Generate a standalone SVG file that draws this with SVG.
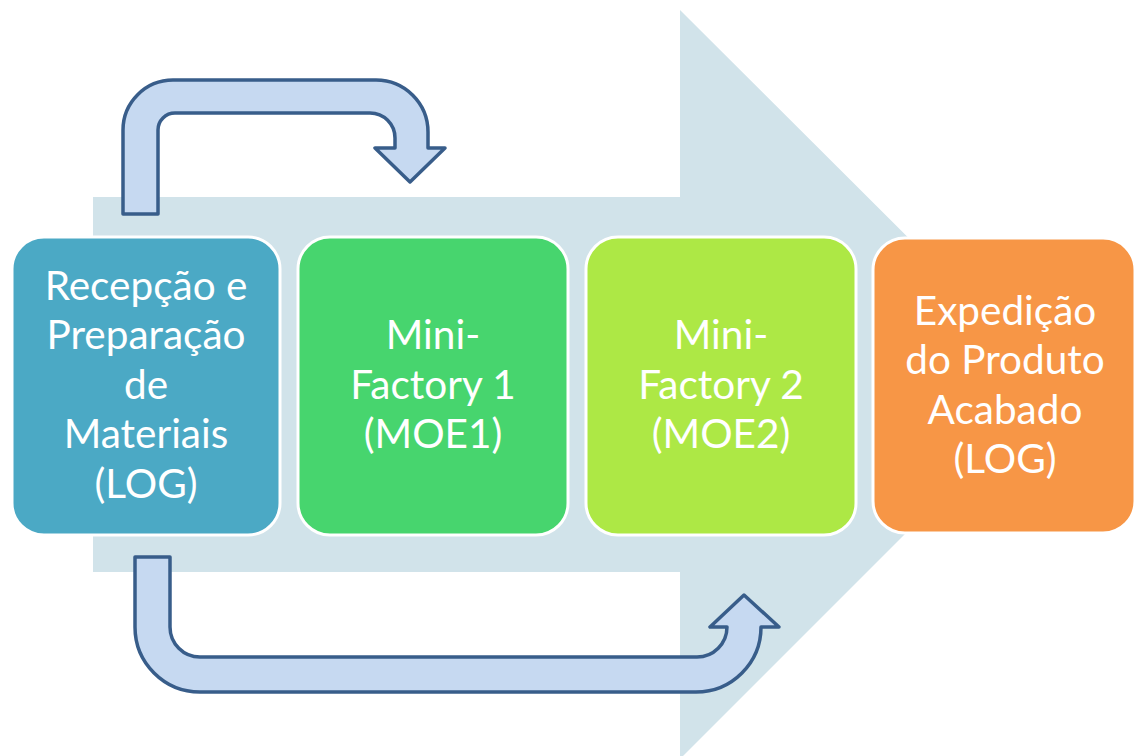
<svg xmlns="http://www.w3.org/2000/svg" width="1137" height="756" viewBox="0 0 1137 756">
  <style>
    .box { stroke: #ffffff; stroke-width: 3; }
    .lbl { font-family: Lato, "Liberation Sans", sans-serif; font-size: 40.5px; fill: #ffffff; text-anchor: middle; }
    .bent { fill: #C6D9F1; stroke: #385D8A; stroke-width: 3.5; stroke-linejoin: round; }
  </style>
  <rect width="1137" height="756" fill="#ffffff"/>
  <g id="background-arrow">
    <path d="M93,197 L680,197 L680,10 L1055,384 L680,759 L680,572 L93,572 Z" fill="#D1E3EA"/>
  </g>
  <g id="connectors">
    <path class="bent" d="M123,214 L123,130 A50,50 0 0 1 173,80 L376,80 A52,52 0 0 1 428,132 L428,148 L445,148 L410,182 L375,148 L395,148 L395,138 A25,25 0 0 0 370,113 L175,113 A17,17 0 0 0 158,130 L158,214 Z"/>
    <path class="bent" d="M135,557 L135,627 A65,65 0 0 0 200,692 L696,692 A65,65 0 0 0 761,627 L779,627 L744,595 L710,627 L727,627 A30,30 0 0 1 697,657 L200,657 A30,30 0 0 1 170,627 L170,557 Z"/>
  </g>
  <g id="node-recepcao">
    <rect class="box" x="12" y="237" width="268" height="298" rx="32" fill="#4BA9C5"/>
    <text class="lbl" x="146" y="300">Recepção e</text>
    <text class="lbl" x="146" y="349">Preparação</text>
    <text class="lbl" x="146" y="399">de</text>
    <text class="lbl" x="146" y="448">Materiais</text>
    <text class="lbl" x="146" y="498">(LOG)</text>
  </g>
  <g id="node-mf1">
    <rect class="box" x="298" y="237" width="270" height="298" rx="32" fill="#47D56E"/>
    <text class="lbl" x="433" y="349">Mini-</text>
    <text class="lbl" x="433" y="399">Factory 1</text>
    <text class="lbl" x="433" y="448">(MOE1)</text>
  </g>
  <g id="node-mf2">
    <rect class="box" x="586" y="237" width="270" height="298" rx="32" fill="#ADE845"/>
    <text class="lbl" x="721" y="349">Mini-</text>
    <text class="lbl" x="721" y="399">Factory 2</text>
    <text class="lbl" x="721" y="448">(MOE2)</text>
  </g>
  <g id="node-expedicao">
    <rect class="box" x="873" y="238" width="262" height="295" rx="32" fill="#F79646"/>
    <text class="lbl" x="1005" y="325">Expedição</text>
    <text class="lbl" x="1005" y="374">do Produto</text>
    <text class="lbl" x="1005" y="424">Acabado</text>
    <text class="lbl" x="1005" y="473">(LOG)</text>
  </g>
</svg>
